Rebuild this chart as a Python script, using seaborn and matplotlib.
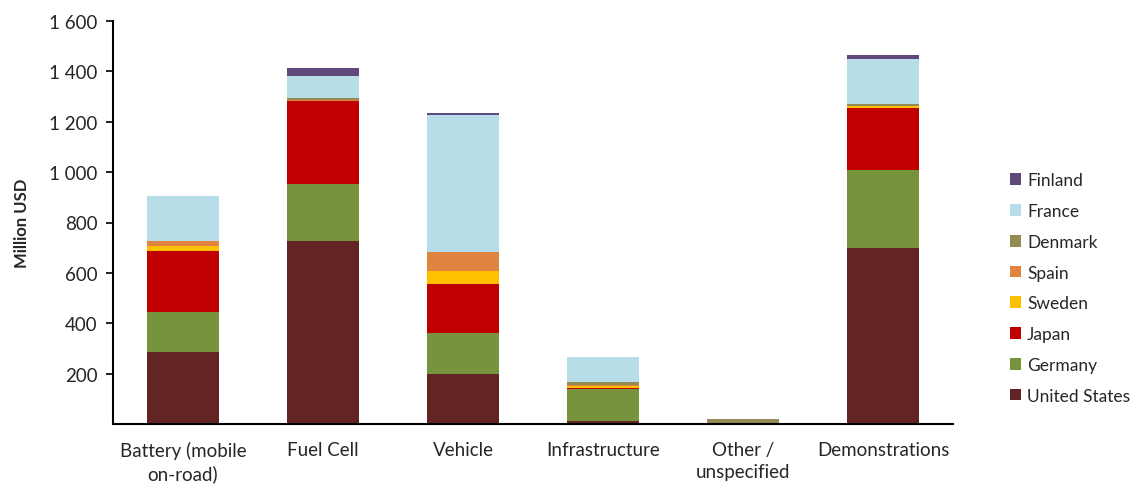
import numpy as np
import pandas as pd
import matplotlib
matplotlib.use("Agg")
import matplotlib.pyplot as plt
import seaborn as sns
from matplotlib.ticker import FuncFormatter

categories = ["Battery (mobile\non-road)", "Fuel Cell", "Vehicle", "Infrastructure",
              "Other /\nunspecified", "Demonstrations"]

# stacked from bottom to top
united_states = [287, 727, 197, 12, 0, 698]
germany = [159, 225, 165, 127, 4, 312]
japan = [242, 332, 193, 2, 0, 244]
sweden = [19, 0, 54, 8, 0, 10]
spain = [20, 3, 73, 7, 0, 0]
denmark = [0, 6, 0, 12, 15, 6]
france = [179, 90, 545, 98, 0, 179]
finland = [0, 29, 8, 0, 0, 16]

countries = ["United States", "Germany", "Japan", "Sweden", "Spain", "Denmark", "France", "Finland"]
series = [united_states, germany, japan, sweden, spain, denmark, france, finland]
colors = ["#632523", "#77933C", "#C00000", "#FFC000", "#E0843F", "#948A54", "#B7DDE8", "#604A7B"]

sns.set_style("white")
plt.rcParams["font.family"] = ["Lato", "DejaVu Sans"]

fig = plt.figure(figsize=(11.4, 4.85), dpi=100)
ax = fig.add_axes([113 / 1140, 60 / 485, 840 / 1140, 403 / 485])

cum = np.cumsum(np.array(series), axis=0)
# draw cumulative totals from the top series down so each layer covers the one above
for i in range(len(countries) - 1, -1, -1):
    df = pd.DataFrame({"category": categories, "value": cum[i]})
    sns.barplot(data=df, x="category", y="value", color=colors[i], saturation=1,
                width=0.51, label=countries[i], ax=ax, edgecolor="none", linewidth=0)

ax.set_xlim(-0.5, 5.5)
ax.set_ylim(0, 1600)
ax.set_yticks(range(200, 1601, 200))
ax.yaxis.set_major_formatter(FuncFormatter(lambda v, p: f"{int(v):,}".replace(",", " ")))
ax.set_xlabel("")
ax.set_ylabel("Million USD", fontsize=12, fontweight="bold", labelpad=14)
ax.tick_params(axis="y", which="major", direction="out", length=5, width=1.2, left=True,
               labelsize=13.5, pad=6, color="black")
ax.tick_params(axis="x", length=0, labelsize=13.5, pad=12)
for lab in ax.get_xticklabels():
    lab.set_horizontalalignment("center")
    lab.set_linespacing(1.4)

for s in ["top", "right"]:
    ax.spines[s].set_visible(False)
for s in ["left", "bottom"]:
    ax.spines[s].set_color("black")
    ax.spines[s].set_linewidth(1.5)

handles, labels = ax.get_legend_handles_labels()
ax.legend(handles, labels, loc="center left", bbox_to_anchor=(994 / 1140, 1 - 289 / 485),
          bbox_transform=fig.transFigure, frameon=False, fontsize=12.5,
          handlelength=0.65, handleheight=0.65, handletextpad=0.35, labelspacing=0.85)

fig.savefig("out.png", dpi=100)
